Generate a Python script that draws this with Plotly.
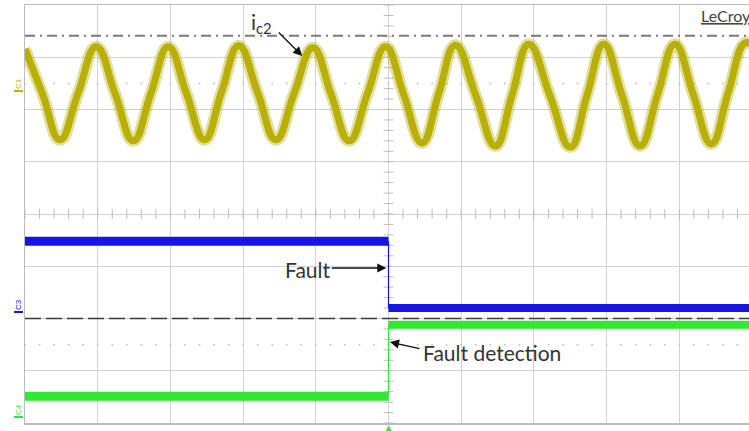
import numpy as np
import plotly.graph_objects as go

# ---- data (oscilloscope divisions: x = time div, y = vertical div) ----
c1_time = [0.00, 0.24, 0.48, 0.73, 0.98, 1.24, 1.49, 1.73, 1.97, 2.22, 2.47, 2.70,
           2.94, 3.20, 3.45, 3.70, 3.96, 4.21, 4.46, 4.71, 4.96, 5.21, 5.46, 5.69,
           5.92, 6.20, 6.47, 6.70, 6.93, 7.22, 7.50, 7.73, 7.96, 8.21, 8.46, 8.70,
           8.94, 9.19, 9.44, 9.67, 9.90, 10.0]
c1_level = [3.16, 2.30, 1.42, 2.31, 3.20, 2.30, 1.40, 2.30, 3.20, 2.31, 1.42, 2.32,
            3.22, 2.32, 1.42, 2.30, 3.18, 2.29, 1.40, 2.30, 3.20, 2.28, 1.36, 2.30,
            3.23, 2.27, 1.30, 2.28, 3.25, 2.27, 1.28, 2.27, 3.25, 2.28, 1.30, 2.28,
            3.25, 2.30, 1.34, 2.31, 3.27, 3.24]

fault_time = 5.0
c3_before, c3_after = -0.52, -1.80      # blue: fault signal
c4_before, c4_after = -3.49, -2.12      # green: fault detection
c1_ref_level = 3.41                     # dash-dot reference
c3_ref_level = -2.0                     # dashed reference
dotted_levels = [2.5, -2.5]

x_max = 10
y_min, y_max = -4, 4

col_c1 = "rgb(184,176,8)"
col_c1_fuzz = "rgba(184,176,8,0.4)"
col_c3 = "rgb(22,22,228)"
col_c4 = "rgb(50,232,50)"
grid_col = "#d2d2d2"

W, H = 754, 431
ML, MR, MT, MB = 25, 0, 5, 8
PW, PH = W - ML - MR, H - MT - MB


def px_x(p):
    return (p - ML) / PW


def px_y(p):
    return (H - MB - p) / PH


fig = go.Figure()

# dotted reference rows
minor_x = np.arange(0, x_max, 0.2)
for lv in dotted_levels:
    fig.add_trace(go.Scatter(x=minor_x, y=[lv] * len(minor_x), mode="markers",
                             marker=dict(size=2, color="#c8c8c8"), hoverinfo="skip"))

# minor ticks on centre cross
fig.add_trace(go.Scatter(x=minor_x, y=[0] * len(minor_x), mode="markers",
                         marker=dict(symbol="line-ns", size=7, line=dict(width=1, color="#bdbdbd")),
                         hoverinfo="skip"))
minor_y = np.arange(y_min, y_max + 0.01, 0.2)
fig.add_trace(go.Scatter(x=[fault_time] * len(minor_y), y=minor_y, mode="markers",
                         marker=dict(symbol="line-ew", size=7, line=dict(width=1, color="#bdbdbd")),
                         hoverinfo="skip"))

# reference lines
fig.add_trace(go.Scatter(x=[0, x_max], y=[c1_ref_level] * 2, mode="lines",
                         line=dict(color="#7a7a7a", width=2, dash="10px,5px,2px,5px"), hoverinfo="skip"))
fig.add_trace(go.Scatter(x=[0, x_max], y=[c3_ref_level] * 2, mode="lines",
                         line=dict(color="#3a3a3a", width=1.5, dash="16px,5px"), hoverinfo="skip"))

# C1 sine current: fuzzy noise band + core
fig.add_trace(go.Scatter(x=c1_time, y=c1_level, mode="lines",
                         line=dict(color=col_c1_fuzz, width=12, shape="spline", smoothing=1.3),
                         hoverinfo="skip"))
fig.add_trace(go.Scatter(x=c1_time, y=c1_level, mode="lines",
                         line=dict(color=col_c1, width=7, shape="spline", smoothing=1.3),
                         hoverinfo="skip"))

# C4 green
fig.add_trace(go.Scatter(x=[0, fault_time], y=[c4_before] * 2, mode="lines",
                         line=dict(color=col_c4, width=9), hoverinfo="skip"))
fig.add_trace(go.Scatter(x=[fault_time, x_max], y=[c4_after] * 2, mode="lines",
                         line=dict(color=col_c4, width=8), hoverinfo="skip"))
fig.add_trace(go.Scatter(x=[fault_time, fault_time], y=[c4_before, c4_after], mode="lines",
                         line=dict(color=col_c4, width=1.2), hoverinfo="skip"))

# C3 blue
fig.add_trace(go.Scatter(x=[0, fault_time], y=[c3_before] * 2, mode="lines",
                         line=dict(color=col_c3, width=9), hoverinfo="skip"))
fig.add_trace(go.Scatter(x=[fault_time, x_max], y=[c3_after] * 2, mode="lines",
                         line=dict(color=col_c3, width=8), hoverinfo="skip"))
fig.add_trace(go.Scatter(x=[fault_time, fault_time], y=[c3_before, c3_after], mode="lines",
                         line=dict(color=col_c3, width=1.2), hoverinfo="skip"))

# trigger marker (below plot area)
fig.add_annotation(x=fault_time, y=y_min, xref="x", yref="y", text="▲", showarrow=False,
                   yanchor="top", yshift=2, font=dict(size=9, color=col_c4, family="DejaVu Sans"))

# channel markers on left
for lbl, py, col in [("C1", 84, col_c1), ("C3", 305, col_c3), ("C4", 410, col_c4)]:
    fig.add_annotation(x=px_x(18), y=px_y(py), xref="paper", yref="paper", text=lbl,
                       showarrow=False, textangle=-90, xanchor="center", yanchor="middle",
                       font=dict(size=8, color=col, family="Liberation Sans"))
    fig.add_shape(type="line", xref="paper", yref="paper",
                  x0=px_x(14), x1=px_x(23), y0=px_y(py + 7), y1=px_y(py + 7),
                  line=dict(color=col, width=2))

font_ann = dict(family="Lato", size=21, color="#333333")

# i_c2 label + arrow
fig.add_annotation(x=px_x(262), y=px_y(23), xref="paper", yref="paper", text="i<sub>c2</sub>",
                   showarrow=False, xanchor="center", yanchor="middle", font=font_ann)
fig.add_annotation(x=(303 - ML) / 72.9, y=(215 - 57) / 52.25, ax=-25, ay=-25, text="",
                   showarrow=True, arrowhead=2, arrowsize=1.4, arrowwidth=1.3, arrowcolor="#111")

# Fault label + arrow
fig.add_annotation(x=px_x(308), y=px_y(269), xref="paper", yref="paper", text="Fault",
                   showarrow=False, xanchor="center", yanchor="middle", font=font_ann)
fig.add_annotation(x=4.97, y=(215 - 269) / 52.25, ax=-56, ay=0, text="",
                   showarrow=True, arrowhead=2, arrowsize=1.4, arrowwidth=1.3, arrowcolor="#111")

# Fault detection label + arrow
fig.add_annotation(x=px_x(422), y=px_y(352), xref="paper", yref="paper", text="Fault detection",
                   showarrow=False, xanchor="left", yanchor="middle", font=font_ann)
fig.add_annotation(x=5.02, y=(215 - 343) / 52.25, ax=31, ay=7, text="",
                   showarrow=True, arrowhead=2, arrowsize=1.4, arrowwidth=1.3, arrowcolor="#111")

# LeCroy
fig.add_annotation(x=px_x(701), y=px_y(15), xref="paper", yref="paper",
                   text="<u>LeCroy</u>", showarrow=False, xanchor="left", yanchor="middle",
                   font=dict(family="Lato", size=16, color="#444444"))

fig.update_layout(
    width=W, height=H,
    margin=dict(l=ML, r=MR, t=MT, b=MB),
    paper_bgcolor="white", plot_bgcolor="white",
    showlegend=False,
    xaxis=dict(range=[0, x_max], dtick=1, tick0=0, showgrid=True, gridcolor=grid_col, gridwidth=1,
               zeroline=False, showticklabels=False, ticks="", showline=True, linecolor="#bcbcbc",
               linewidth=1.5, mirror=True, fixedrange=True),
    yaxis=dict(range=[y_min, y_max], dtick=1, tick0=0, showgrid=True, gridcolor=grid_col, gridwidth=1,
               zeroline=False, showticklabels=False, ticks="", showline=True, linecolor="#bcbcbc",
               linewidth=1.5, mirror=True, fixedrange=True),
)

fig.write_html("out.html", config={"displayModeBar": False, "staticPlot": True},
               post_script="document.body.style.margin='0';document.body.style.overflow='hidden';")
